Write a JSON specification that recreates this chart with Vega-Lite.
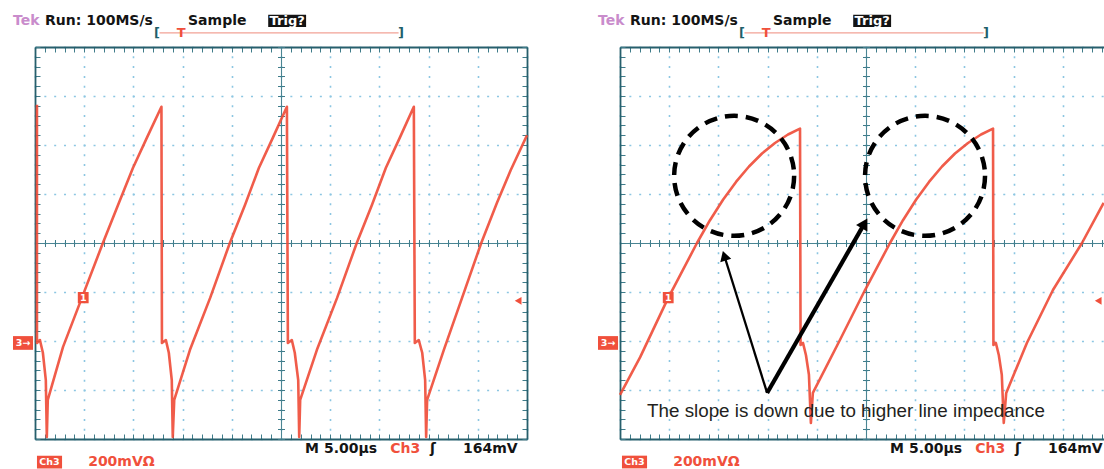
{
  "$schema": "https://vega.github.io/schema/vega-lite/v6.json",
  "background": "#ffffff",
  "autosize": {"type": "pad"},
  "padding": {"left": 13, "top": 13, "right": 0, "bottom": 0},
  "spacing": 93,
  "bounds": "flush",
  "config": {"view": {"stroke": null}, "text": {"font": "DejaVu Sans"}, "axis": {"zindex": 0}},
  "datasets": {
    "waveL": [
      {"i":0,"x":0.04,"y":2.82},{"i":1,"x":0.04,"y":-2.04},{"i":2,"x":0.10,"y":-1.98},{"i":3,"x":0.16,"y":-2.24},
      {"i":4,"x":0.22,"y":-2.80},{"i":5,"x":0.24,"y":-3.96},{"i":6,"x":0.26,"y":-3.20},{"i":7,"x":0.57,"y":-2.12},
      {"i":8,"x":0.96,"y":-1.10},{"i":9,"x":1.38,"y":0},{"i":10,"x":1.69,"y":0.78},{"i":11,"x":1.99,"y":1.53},
      {"i":12,"x":2.28,"y":2.16},{"i":13,"x":2.57,"y":2.78},{"i":14,"x":2.58,"y":-2.04},{"i":15,"x":2.66,"y":-1.98},
      {"i":16,"x":2.72,"y":-2.24},{"i":17,"x":2.78,"y":-2.80},{"i":18,"x":2.80,"y":-3.96},{"i":19,"x":2.83,"y":-3.20},
      {"i":20,"x":3.15,"y":-2.18},{"i":21,"x":3.56,"y":-1.12},{"i":22,"x":3.96,"y":0},{"i":23,"x":4.27,"y":0.78},
      {"i":24,"x":4.55,"y":1.53},{"i":25,"x":4.84,"y":2.16},{"i":26,"x":5.12,"y":2.78},{"i":27,"x":5.14,"y":-2.04},
      {"i":28,"x":5.22,"y":-1.98},{"i":29,"x":5.28,"y":-2.24},{"i":30,"x":5.35,"y":-2.80},{"i":31,"x":5.37,"y":-3.96},
      {"i":32,"x":5.39,"y":-3.20},{"i":33,"x":5.73,"y":-2.18},{"i":34,"x":6.14,"y":-1.12},{"i":35,"x":6.54,"y":0},
      {"i":36,"x":6.85,"y":0.78},{"i":37,"x":7.13,"y":1.53},{"i":38,"x":7.42,"y":2.16},{"i":39,"x":7.70,"y":2.78},
      {"i":40,"x":7.72,"y":-2.04},{"i":41,"x":7.80,"y":-1.98},{"i":42,"x":7.87,"y":-2.24},{"i":43,"x":7.93,"y":-2.80},
      {"i":44,"x":7.95,"y":-3.96},{"i":45,"x":7.97,"y":-3.20},{"i":46,"x":8.31,"y":-2.18},{"i":47,"x":8.68,"y":-1.12},
      {"i":48,"x":9.07,"y":0},{"i":49,"x":9.39,"y":0.82},{"i":50,"x":9.67,"y":1.49},{"i":51,"x":10.0,"y":2.20}
    ],
    "waveR": [
      {"i":0,"x":0.0,"y":-3.10},{"i":1,"x":0.41,"y":-2.33},{"i":2,"x":0.96,"y":-1.16},{"i":3,"x":1.565,"y":0},
      {"i":4,"x":1.829,"y":0.465},{"i":5,"x":2.094,"y":0.882},{"i":6,"x":2.358,"y":1.247},{"i":7,"x":2.622,"y":1.561},
      {"i":8,"x":2.886,"y":1.827},{"i":9,"x":3.150,"y":2.041},{"i":10,"x":3.415,"y":2.215},{"i":11,"x":3.659,"y":2.333},
      {"i":12,"x":3.67,"y":-2.08},{"i":13,"x":3.72,"y":-2.04},{"i":14,"x":3.78,"y":-2.29},{"i":15,"x":3.84,"y":-2.69},
      {"i":16,"x":3.88,"y":-3.67},{"i":17,"x":3.92,"y":-3.06},{"i":18,"x":4.47,"y":-1.98},{"i":19,"x":4.98,"y":-0.96},
      {"i":20,"x":5.488,"y":0},{"i":21,"x":5.752,"y":0.465},{"i":22,"x":6.017,"y":0.882},{"i":23,"x":6.281,"y":1.247},
      {"i":24,"x":6.545,"y":1.561},{"i":25,"x":6.809,"y":1.827},{"i":26,"x":7.073,"y":2.041},{"i":27,"x":7.338,"y":2.215},
      {"i":28,"x":7.582,"y":2.333},{"i":29,"x":7.59,"y":-2.08},{"i":30,"x":7.64,"y":-2.04},{"i":31,"x":7.70,"y":-2.29},
      {"i":32,"x":7.76,"y":-2.69},{"i":33,"x":7.80,"y":-3.67},{"i":34,"x":7.85,"y":-3.06},{"i":35,"x":8.27,"y":-2.04},
      {"i":36,"x":8.80,"y":-0.96},{"i":37,"x":9.39,"y":0},{"i":38,"x":9.83,"y":0.82}
    ],
    "lbl": [
      {"x":-0.447,"y":4.54,"t":"Tek","role":"brand"},
      {"x":0.203,"y":4.54,"t":"Run: 100MS/s","role":"ink"},
      {"x":3.11,"y":4.54,"t":"Sample","role":"ink"},
      {"x":5.49,"y":-4.2,"t":"M 5.00µs","role":"ink"},
      {"x":7.22,"y":-4.2,"t":"Ch3","role":"channel"},
      {"x":8.03,"y":-4.2,"t":"ʃ","role":"ink"},
      {"x":8.70,"y":-4.2,"t":"164mV","role":"ink"},
      {"x":1.08,"y":-4.46,"t":"200mVΩ","role":"channel"}
    ],
    "mid": [
      {"x":2.48,"y":4.29,"t":"[","role":"bracket"},
      {"x":7.44,"y":4.29,"t":"]","role":"bracket"},
      {"x":2.97,"y":4.29,"t":"T","role":"channel"},
      {"x":5.125,"y":4.53,"t":"Trig?","role":"inverse"}
    ],
    "boxes": [
      {"x":4.74,"x2":5.51,"y":4.41,"y2":4.66,"role":"ink"},
      {"x":0.87,"x2":1.09,"y":-1.0,"y2":-1.23,"role":"channel"},
      {"x":-0.447,"x2":-0.04,"y":-1.9,"y2":-2.18,"role":"channel"},
      {"x":0.04,"x2":0.55,"y":-4.34,"y2":-4.60,"role":"channel"}
    ],
    "boxtxt": [
      {"x":0.98,"y":-1.115,"t":"1"},
      {"x":-0.243,"y":-2.04,"t":"3→"},
      {"x":0.295,"y":-4.47,"t":"Ch3"}
    ],
    "trace": [{"x":2.53,"x2":7.39,"y":4.29}],
    "trig": [{"p":"L","x":9.82,"y":-1.18},{"p":"R","x":9.72,"y":-1.18}]
  },
  "hconcat": [
    {
      "width": 492,
      "height": 392,
      "resolve": {"axis": {"x": "independent", "y": "independent"}},
      "layer": [
        {
          "data": {"name": "waveL"},
          "mark": {"type": "line", "color": "#ee4a36", "strokeWidth": 2.6, "strokeJoin": "round", "opacity": 0.9},
          "encoding": {
            "x": {"field": "x", "type": "quantitative", "scale": {"domain": [0, 10], "nice": false, "zero": false},
                  "axis": {"orient": "bottom", "grid": true, "gridColor": "#8cc6e2", "gridWidth": 1.6, "gridDash": [2, 7.8], "gridDashOffset": 1, "tickCount": 10, "ticks": false, "labels": false, "domain": false, "title": null}},
            "y": {"field": "y", "type": "quantitative", "scale": {"domain": [-4, 4], "nice": false, "zero": false},
                  "axis": {"orient": "left", "grid": true, "gridColor": "#8cc6e2", "gridWidth": 1.6, "gridDash": [2, 7.84], "gridDashOffset": 1, "tickCount": 8, "ticks": false, "labels": false, "domain": false, "title": null}},
            "order": {"field": "i", "type": "quantitative"}
          }
        },
        {
          "data": {"name": "boxes"},
          "mark": {"type": "rect"},
          "encoding": {
            "x": {"field": "x", "type": "quantitative", "scale": {"domain": [0, 10], "nice": false, "zero": false},
                  "axis": {"orient": "top", "offset": -392, "tickCount": 50, "tickSize": 5, "tickColor": "#3f7c8a", "tickWidth": 1, "domain": true, "domainColor": "#275f6c", "domainWidth": 1.8, "labels": false, "grid": false, "title": null}},
            "x2": {"field": "x2"},
            "y": {"field": "y", "type": "quantitative", "scale": {"domain": [-4, 4], "nice": false, "zero": false},
                  "axis": {"orient": "right", "offset": -492, "tickCount": 40, "tickSize": 5, "tickColor": "#3f7c8a", "tickWidth": 1, "domain": true, "domainColor": "#275f6c", "domainWidth": 1.8, "labels": false, "grid": false, "title": null}},
            "y2": {"field": "y2"},
            "color": {"field": "role", "type": "nominal", "scale": {"domain": ["ink", "brand", "channel", "bracket", "inverse"], "range": ["#141414", "#c98ccc", "#f0503c", "#1f5f6b", "#ffffff"]}, "legend": null}
          }
        },
        {
          "data": {"name": "boxtxt"},
          "mark": {"type": "text", "align": "center", "baseline": "middle", "fontSize": 9.5, "fontWeight": "bold", "color": "#ffffff"},
          "encoding": {
            "x": {"field": "x", "type": "quantitative", "scale": {"domain": [0, 10], "nice": false, "zero": false},
                  "axis": {"orient": "bottom", "offset": -392, "tickCount": 50, "tickSize": 5, "tickColor": "#3f7c8a", "tickWidth": 1, "domain": true, "domainColor": "#275f6c", "domainWidth": 1.8, "labels": false, "grid": false, "title": null}},
            "y": {"field": "y", "type": "quantitative", "scale": {"domain": [-4, 4], "nice": false, "zero": false},
                  "axis": {"orient": "left", "offset": -492, "tickCount": 40, "tickSize": 5, "tickColor": "#3f7c8a", "tickWidth": 1, "domain": true, "domainColor": "#275f6c", "domainWidth": 1.8, "labels": false, "grid": false, "title": null}},
            "text": {"field": "t"}
          }
        },
        {
          "data": {"name": "lbl"},
          "mark": {"type": "text", "align": "left", "baseline": "middle", "fontSize": 14, "fontWeight": "bold"},
          "encoding": {
            "x": {"field": "x", "type": "quantitative", "scale": {"domain": [0, 10], "nice": false, "zero": false},
                  "axis": {"orient": "bottom", "offset": -196, "tickCount": 50, "tickSize": 3.5, "tickColor": "#3f7c8a", "tickWidth": 1, "domain": true, "domainColor": "#4a8593", "domainWidth": 1.1, "labels": false, "grid": false, "title": null}},
            "y": {"field": "y", "type": "quantitative", "scale": {"domain": [-4, 4], "nice": false, "zero": false},
                  "axis": {"orient": "left", "offset": -246, "tickCount": 40, "tickSize": 3.5, "tickColor": "#3f7c8a", "tickWidth": 1, "domain": true, "domainColor": "#4a8593", "domainWidth": 1.1, "labels": false, "grid": false, "title": null}},
            "text": {"field": "t"},
            "color": {"field": "role", "type": "nominal", "scale": {"domain": ["ink", "brand", "channel", "bracket", "inverse"], "range": ["#141414", "#c98ccc", "#f0503c", "#1f5f6b", "#ffffff"]}, "legend": null}
          }
        },
        {
          "data": {"name": "trace"},
          "mark": {"type": "rule", "color": "#f2a296", "strokeWidth": 1.2},
          "encoding": {
            "x": {"field": "x", "type": "quantitative", "scale": {"domain": [0, 10], "nice": false, "zero": false}, "axis": null},
            "x2": {"field": "x2"},
            "y": {"field": "y", "type": "quantitative", "scale": {"domain": [-4, 4], "nice": false, "zero": false}, "axis": null}
          }
        },
        {
          "data": {"name": "mid"},
          "mark": {"type": "text", "align": "center", "baseline": "middle", "fontSize": 13, "fontWeight": "bold"},
          "encoding": {
            "x": {"field": "x", "type": "quantitative", "scale": {"domain": [0, 10], "nice": false, "zero": false},
                  "axis": {"orient": "top", "offset": -196, "tickCount": 50, "tickSize": 3.5, "tickColor": "#3f7c8a", "tickWidth": 1, "domain": false, "labels": false, "grid": false, "title": null}},
            "y": {"field": "y", "type": "quantitative", "scale": {"domain": [-4, 4], "nice": false, "zero": false},
                  "axis": {"orient": "right", "offset": -246, "tickCount": 40, "tickSize": 3.5, "tickColor": "#3f7c8a", "tickWidth": 1, "domain": false, "labels": false, "grid": false, "title": null}},
            "text": {"field": "t"},
            "color": {"field": "role", "type": "nominal", "scale": {"domain": ["ink", "brand", "channel", "bracket", "inverse"], "range": ["#141414", "#c98ccc", "#f0503c", "#1f5f6b", "#ffffff"]}, "legend": null}
          }
        },
        {
          "data": {"name": "trig"},
          "transform": [{"filter": "datum.p === 'L'"}],
          "mark": {"type": "point", "shape": "triangle-left", "filled": true, "color": "#f0503c", "opacity": 1, "size": 60},
          "encoding": {
            "x": {"field": "x", "type": "quantitative", "scale": {"domain": [0, 10], "nice": false, "zero": false}, "axis": null},
            "y": {"field": "y", "type": "quantitative", "scale": {"domain": [-4, 4], "nice": false, "zero": false}, "axis": null}
          }
        }
      ]
    },
    {
      "width": 484,
      "height": 392,
      "resolve": {"axis": {"x": "independent", "y": "independent"}},
      "layer": [
        {
          "data": {"name": "waveR"},
          "mark": {"type": "line", "color": "#ee4a36", "strokeWidth": 2.6, "strokeJoin": "round", "opacity": 0.9},
          "encoding": {
            "x": {"field": "x", "type": "quantitative", "scale": {"domain": [0, 9.8374], "nice": false, "zero": false},
                  "axis": {"orient": "bottom", "grid": true, "gridColor": "#8cc6e2", "gridWidth": 1.6, "gridDash": [2, 7.8], "gridDashOffset": 1, "tickCount": 10, "ticks": false, "labels": false, "domain": false, "title": null}},
            "y": {"field": "y", "type": "quantitative", "scale": {"domain": [-4, 4], "nice": false, "zero": false},
                  "axis": {"orient": "left", "grid": true, "gridColor": "#8cc6e2", "gridWidth": 1.6, "gridDash": [2, 7.84], "gridDashOffset": 1, "tickCount": 8, "ticks": false, "labels": false, "domain": false, "title": null}},
            "order": {"field": "i", "type": "quantitative"}
          }
        },
        {
          "data": {"name": "boxes"},
          "mark": {"type": "rect"},
          "encoding": {
            "x": {"field": "x", "type": "quantitative", "scale": {"domain": [0, 9.8374], "nice": false, "zero": false},
                  "axis": {"orient": "top", "offset": -392, "tickCount": 50, "tickSize": 5, "tickColor": "#3f7c8a", "tickWidth": 1, "domain": true, "domainColor": "#275f6c", "domainWidth": 1.8, "labels": false, "grid": false, "title": null}},
            "x2": {"field": "x2"},
            "y": {"field": "y", "type": "quantitative", "scale": {"domain": [-4, 4], "nice": false, "zero": false},
                  "axis": {"orient": "right", "offset": -484, "tickCount": 40, "tickSize": 5, "tickColor": "#3f7c8a", "tickWidth": 1, "domain": true, "domainColor": "#275f6c", "domainWidth": 1.8, "labels": false, "grid": false, "title": null}},
            "y2": {"field": "y2"},
            "color": {"field": "role", "type": "nominal", "scale": {"domain": ["ink", "brand", "channel", "bracket", "inverse"], "range": ["#141414", "#c98ccc", "#f0503c", "#1f5f6b", "#ffffff"]}, "legend": null}
          }
        },
        {
          "data": {"name": "boxtxt"},
          "mark": {"type": "text", "align": "center", "baseline": "middle", "fontSize": 9.5, "fontWeight": "bold", "color": "#ffffff"},
          "encoding": {
            "x": {"field": "x", "type": "quantitative", "scale": {"domain": [0, 9.8374], "nice": false, "zero": false},
                  "axis": {"orient": "bottom", "offset": -392, "tickCount": 50, "tickSize": 5, "tickColor": "#3f7c8a", "tickWidth": 1, "domain": true, "domainColor": "#275f6c", "domainWidth": 1.8, "labels": false, "grid": false, "title": null}},
            "y": {"field": "y", "type": "quantitative", "scale": {"domain": [-4, 4], "nice": false, "zero": false}, "axis": null},
            "text": {"field": "t"}
          }
        },
        {
          "data": {"name": "lbl"},
          "mark": {"type": "text", "align": "left", "baseline": "middle", "fontSize": 14, "fontWeight": "bold"},
          "encoding": {
            "x": {"field": "x", "type": "quantitative", "scale": {"domain": [0, 9.8374], "nice": false, "zero": false},
                  "axis": {"orient": "bottom", "offset": -196, "tickCount": 50, "tickSize": 3.5, "tickColor": "#3f7c8a", "tickWidth": 1, "domain": true, "domainColor": "#4a8593", "domainWidth": 1.1, "labels": false, "grid": false, "title": null}},
            "y": {"field": "y", "type": "quantitative", "scale": {"domain": [-4, 4], "nice": false, "zero": false},
                  "axis": {"orient": "left", "offset": -246, "tickCount": 40, "tickSize": 3.5, "tickColor": "#3f7c8a", "tickWidth": 1, "domain": true, "domainColor": "#4a8593", "domainWidth": 1.1, "labels": false, "grid": false, "title": null}},
            "text": {"field": "t"},
            "color": {"field": "role", "type": "nominal", "scale": {"domain": ["ink", "brand", "channel", "bracket", "inverse"], "range": ["#141414", "#c98ccc", "#f0503c", "#1f5f6b", "#ffffff"]}, "legend": null}
          }
        },
        {
          "data": {"name": "trace"},
          "mark": {"type": "rule", "color": "#f2a296", "strokeWidth": 1.2},
          "encoding": {
            "x": {"field": "x", "type": "quantitative", "scale": {"domain": [0, 9.8374], "nice": false, "zero": false}, "axis": null},
            "x2": {"field": "x2"},
            "y": {"field": "y", "type": "quantitative", "scale": {"domain": [-4, 4], "nice": false, "zero": false}, "axis": null}
          }
        },
        {
          "data": {"name": "mid"},
          "mark": {"type": "text", "align": "center", "baseline": "middle", "fontSize": 13, "fontWeight": "bold"},
          "encoding": {
            "x": {"field": "x", "type": "quantitative", "scale": {"domain": [0, 9.8374], "nice": false, "zero": false},
                  "axis": {"orient": "top", "offset": -196, "tickCount": 50, "tickSize": 3.5, "tickColor": "#3f7c8a", "tickWidth": 1, "domain": false, "labels": false, "grid": false, "title": null}},
            "y": {"field": "y", "type": "quantitative", "scale": {"domain": [-4, 4], "nice": false, "zero": false},
                  "axis": {"orient": "right", "offset": -238, "tickCount": 40, "tickSize": 3.5, "tickColor": "#3f7c8a", "tickWidth": 1, "domain": false, "labels": false, "grid": false, "title": null}},
            "text": {"field": "t"},
            "color": {"field": "role", "type": "nominal", "scale": {"domain": ["ink", "brand", "channel", "bracket", "inverse"], "range": ["#141414", "#c98ccc", "#f0503c", "#1f5f6b", "#ffffff"]}, "legend": null}
          }
        },
        {
          "data": {"name": "trig"},
          "transform": [{"filter": "datum.p === 'R'"}],
          "mark": {"type": "point", "shape": "triangle-left", "filled": true, "color": "#f0503c", "opacity": 1, "size": 60},
          "encoding": {
            "x": {"field": "x", "type": "quantitative", "scale": {"domain": [0, 9.8374], "nice": false, "zero": false}, "axis": null},
            "y": {"field": "y", "type": "quantitative", "scale": {"domain": [-4, 4], "nice": false, "zero": false}, "axis": null}
          }
        },
        {
          "data": {"values": [{"x": 2.32, "y": 1.37}, {"x": 6.20, "y": 1.37}]},
          "mark": {"type": "point", "shape": "circle", "filled": false, "stroke": "#000000", "strokeWidth": 4.5, "strokeDash": [13, 8], "opacity": 1, "size": 14400},
          "encoding": {
            "x": {"field": "x", "type": "quantitative", "scale": {"domain": [0, 9.8374], "nice": false, "zero": false}, "axis": null},
            "y": {"field": "y", "type": "quantitative", "scale": {"domain": [-4, 4], "nice": false, "zero": false}, "axis": null}
          }
        },
        {
          "data": {"values": [{"x": 2.99, "y": -3.06, "x2": 2.12, "y2": -0.26}]},
          "mark": {"type": "rule", "color": "#000000", "strokeWidth": 2.3},
          "encoding": {
            "x": {"field": "x", "type": "quantitative", "scale": {"domain": [0, 9.8374], "nice": false, "zero": false}, "axis": null},
            "y": {"field": "y", "type": "quantitative", "scale": {"domain": [-4, 4], "nice": false, "zero": false}, "axis": null},
            "x2": {"field": "x2"},
            "y2": {"field": "y2"}
          }
        },
        {
          "data": {"values": [{"x": 2.99, "y": -3.06, "x2": 4.97, "y2": 0.40}]},
          "mark": {"type": "rule", "color": "#000000", "strokeWidth": 4.2},
          "encoding": {
            "x": {"field": "x", "type": "quantitative", "scale": {"domain": [0, 9.8374], "nice": false, "zero": false}, "axis": null},
            "y": {"field": "y", "type": "quantitative", "scale": {"domain": [-4, 4], "nice": false, "zero": false}, "axis": null},
            "x2": {"field": "x2"},
            "y2": {"field": "y2"}
          }
        },
        {
          "data": {"values": [{"x": 2.12, "y": -0.26}]},
          "mark": {"type": "point", "shape": "triangle-up", "filled": true, "color": "#000000", "opacity": 1, "size": 130, "angle": -17},
          "encoding": {
            "x": {"field": "x", "type": "quantitative", "scale": {"domain": [0, 9.8374], "nice": false, "zero": false}, "axis": null},
            "y": {"field": "y", "type": "quantitative", "scale": {"domain": [-4, 4], "nice": false, "zero": false}, "axis": null}
          }
        },
        {
          "data": {"values": [{"x": 4.97, "y": 0.40}]},
          "mark": {"type": "point", "shape": "triangle-up", "filled": true, "color": "#000000", "opacity": 1, "size": 170, "angle": 30},
          "encoding": {
            "x": {"field": "x", "type": "quantitative", "scale": {"domain": [0, 9.8374], "nice": false, "zero": false}, "axis": null},
            "y": {"field": "y", "type": "quantitative", "scale": {"domain": [-4, 4], "nice": false, "zero": false}, "axis": null}
          }
        },
        {
          "data": {"values": [{"x": 0.55, "y": -3.55, "t": "The slope is down due to higher line impedance"}]},
          "mark": {"type": "text", "align": "left", "baseline": "alphabetic", "font": "Liberation Sans", "fontSize": 18.8, "fontWeight": "normal", "color": "#231f20"},
          "encoding": {
            "x": {"field": "x", "type": "quantitative", "scale": {"domain": [0, 9.8374], "nice": false, "zero": false}, "axis": null},
            "y": {"field": "y", "type": "quantitative", "scale": {"domain": [-4, 4], "nice": false, "zero": false}, "axis": null},
            "text": {"field": "t"}
          }
        }
      ]
    }
  ]
}
